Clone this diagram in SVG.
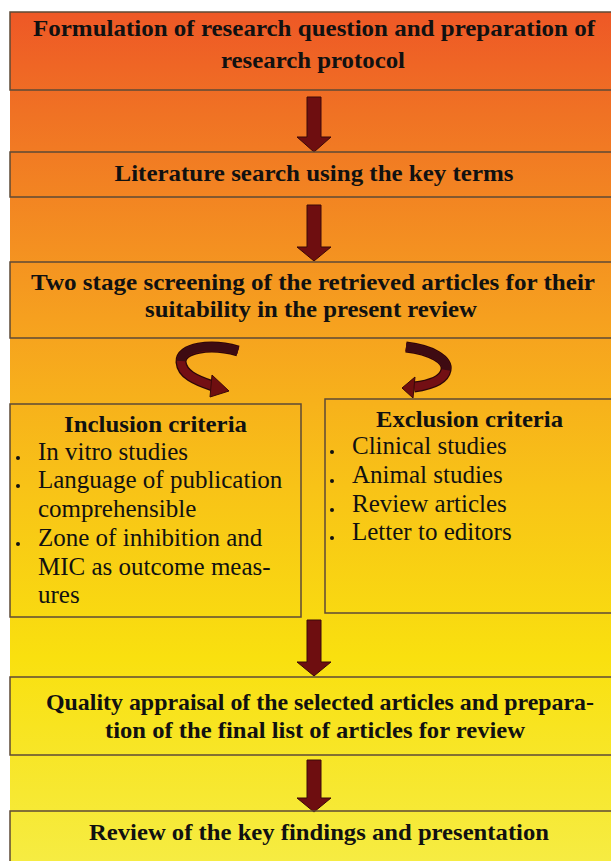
<svg xmlns="http://www.w3.org/2000/svg" width="611" height="861" viewBox="0 0 611 861">
<defs>
<linearGradient id="bg" gradientUnits="userSpaceOnUse" x1="0" y1="12" x2="0" y2="861">
<stop offset="0" stop-color="#EE5826"/>
<stop offset="0.12" stop-color="#F07224"/>
<stop offset="0.36" stop-color="#F6A01F"/>
<stop offset="0.56" stop-color="#F8C317"/>
<stop offset="0.76" stop-color="#F9E00F"/>
<stop offset="1" stop-color="#F6EC42"/>
</linearGradient>
<style>
.box{fill:none;stroke:#5E4A36;stroke-width:1.5}
.h{font-family:"Liberation Serif","Times New Roman",serif;font-weight:bold;font-size:24px;fill:#111;text-anchor:middle}
.t{font-family:"Liberation Serif","Times New Roman",serif;font-size:25px;fill:#111}
.arr{fill:#6E0E10;stroke:#3A0808;stroke-width:1}
.dot{fill:#111}
.rb{fill:none;stroke:#2E0608;stroke-width:11}
.rm{fill:none;stroke:#730F14;stroke-width:8.5}
.rd{fill:none;stroke:#3E0B12;stroke-width:8.5}
</style>
</defs>
<rect x="0" y="0" width="611" height="861" fill="#ffffff"/>
<rect x="10" y="12" width="601" height="849" fill="url(#bg)"/>

<g id="connectors">
<polygon class="arr" points="307,97 321,97 321,137 331,137 314,152 297,137 307,137"/>
<polygon class="arr" points="307,205 321,205 321,247 331,247 314,261 297,247 307,247"/>
<polygon class="arr" points="307,620 321,620 321,662 331,662 314,676 297,662 307,662"/>
<polygon class="arr" points="307,760 321,760 321,798 331,798 314,812 297,798 307,798"/>
<g id="curve-left">
<path class="rb" d="M238,351 C210,343 180,348 181,362 C182,374 195,380 213,386"/>
<path class="rm" d="M238,351 C210,343 180,348 181,362 C182,374 195,380 213,386"/>
<path class="rd" d="M238,351 C210,343 182,347 181,361"/>
<polygon class="arr" points="212,375 229,391 210,397"/>
</g>
<g id="curve-right">
<path class="rb" d="M406,347 C432,350 448,360 446,370 C444,380 430,385 414,387"/>
<path class="rm" d="M406,347 C432,350 448,360 446,370 C444,380 430,385 414,387"/>
<path class="rd" d="M406,347 C432,350 448,360 446,370"/>
<polygon class="arr" points="415,377 402,388 413,398"/>
</g>
</g>

<g id="n1">
<rect class="box" x="10" y="12" width="610" height="78"/>
<text class="h" x="314" y="36" textLength="562" lengthAdjust="spacingAndGlyphs">Formulation of research question and preparation of</text>
<text class="h" x="313" y="68" textLength="184" lengthAdjust="spacingAndGlyphs">research protocol</text>
</g>
<g id="n2">
<rect class="box" x="10" y="152" width="610" height="45"/>
<text class="h" x="314" y="181" textLength="399" lengthAdjust="spacingAndGlyphs">Literature search using the key terms</text>
</g>
<g id="n3">
<rect class="box" x="10" y="262" width="610" height="76"/>
<text class="h" x="313" y="290" textLength="564" lengthAdjust="spacingAndGlyphs">Two stage screening of the retrieved articles for their</text>
<text class="h" x="311" y="317" textLength="332" lengthAdjust="spacingAndGlyphs">suitability in the present review</text>
</g>
<g id="n4">
<rect class="box" x="10" y="404" width="291" height="213"/>
<text class="h" x="155.5" y="432" textLength="183" lengthAdjust="spacingAndGlyphs">Inclusion criteria</text>
<circle class="dot" cx="18" cy="458" r="2"/>
<circle class="dot" cx="18" cy="486" r="2"/>
<circle class="dot" cx="18" cy="544" r="2"/>
<text class="t" x="38" y="460">In vitro studies</text>
<text class="t" x="38" y="488">Language of publication</text>
<text class="t" x="38" y="517">comprehensible</text>
<text class="t" x="38" y="546">Zone of inhibition and</text>
<text class="t" x="38" y="575">MIC as outcome meas-</text>
<text class="t" x="38" y="603">ures</text>
</g>
<g id="n5">
<rect class="box" x="325" y="399" width="295" height="214"/>
<text class="h" x="469.5" y="427" textLength="187" lengthAdjust="spacingAndGlyphs">Exclusion criteria</text>
<circle class="dot" cx="332" cy="452" r="2"/>
<circle class="dot" cx="332" cy="481" r="2"/>
<circle class="dot" cx="332" cy="510" r="2"/>
<circle class="dot" cx="332" cy="538" r="2"/>
<text class="t" x="352" y="454">Clinical studies</text>
<text class="t" x="352" y="483">Animal studies</text>
<text class="t" x="352" y="512">Review articles</text>
<text class="t" x="352" y="540">Letter to editors</text>
</g>
<g id="n6">
<rect class="box" x="10" y="677" width="610" height="78"/>
<text class="h" x="320" y="710" textLength="548" lengthAdjust="spacingAndGlyphs">Quality appraisal of the selected articles and prepara-</text>
<text class="h" x="315" y="738" textLength="420" lengthAdjust="spacingAndGlyphs">tion of the final list of articles for review</text>
</g>
<g id="n7">
<rect class="box" x="10" y="811" width="610" height="60"/>
<text class="h" x="319" y="840" textLength="460" lengthAdjust="spacingAndGlyphs">Review of the key findings  and presentation</text>
</g>
</svg>
